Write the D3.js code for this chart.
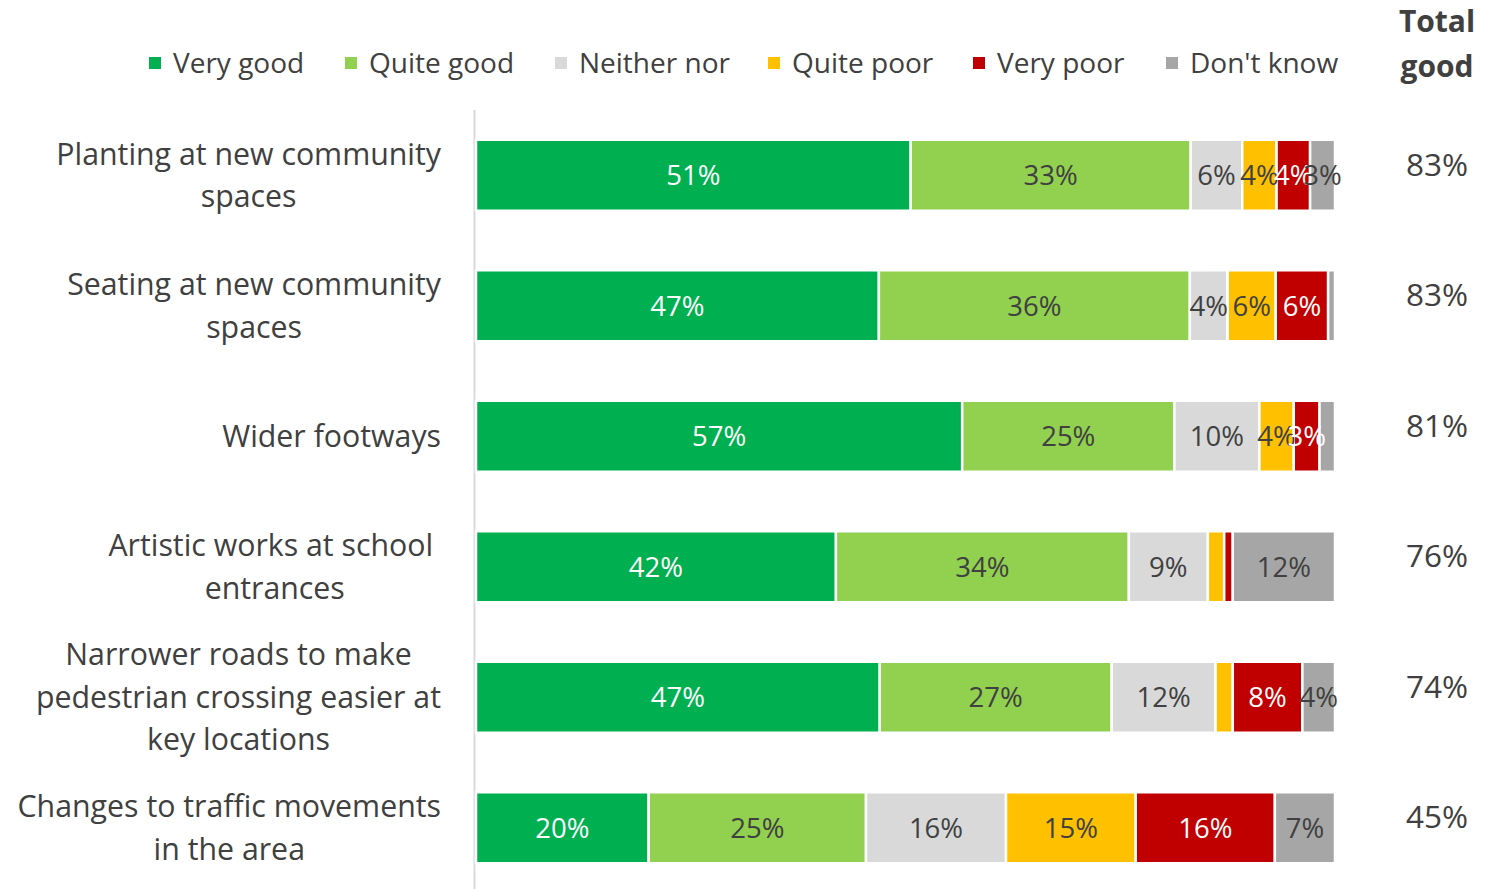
<!DOCTYPE html>
<html>
<head>
<meta charset="utf-8">
<script src="https://cdn.jsdelivr.net/npm/d3@7"></script>
<style>
  html, body { margin: 0; padding: 0; background: #fff; }
  svg { display: block; font-family: "Open Sans", "Noto Sans", sans-serif; }
  .cat tspan { white-space: pre; }
</style>
</head>
<body>
<svg id="chart" width="1496" height="889"></svg>
<script>
// Survey statements, one bar each (wrapped as the labels break)
const categories = [
  ["Planting at new community", "spaces"],
  ["Seating at new community", "spaces"],
  ["Wider footways"],
  ["Artistic works at school ", "entrances"],
  ["Narrower roads to make", "pedestrian crossing easier at", "key locations"],
  ["Changes to traffic movements", "in the area"]
];

const seriesNames = ["Very good", "Quite good", "Neither nor", "Quite poor", "Very poor", "Don't know"];
const seriesColors = ["#00B050", "#92D050", "#D9D9D9", "#FFC000", "#C00000", "#A6A6A6"];
const labelColors  = ["#ffffff", "#404040", "#404040", "#404040", "#ffffff", "#404040"];

// Share of responses per statement (%)
const veryGood  = [50.6, 46.9, 56.6, 41.9, 47.0, 20.1];
const quiteGood = [32.6, 36.2, 24.7, 34.1, 27.0, 25.3];
const neither   = [ 6.0,  4.4,  9.9,  9.2, 12.1, 16.3];
const quitePoor = [ 4.0,  5.6,  4.0,  1.9,  2.0, 15.1];
const veryPoor  = [ 3.9,  6.1,  3.0,  1.0,  8.1, 16.2];
const dontKnow  = [ 2.9,  0.8,  1.8, 11.9,  3.8,  7.0];

const series = [veryGood, quiteGood, neither, quitePoor, veryPoor, dontKnow];
const totalHeader = ["Total", "good"];

const svg = d3.select("#chart");
const textColor = "#404040";
const fmt = v => d3.format(".0f")(v) + "%";

const x = d3.scaleLinear().domain([0, 100]).range([476, 1335]);
const y = d3.scaleBand()
  .domain(d3.range(categories.length))
  .range([110, 893])
  .paddingInner(0.456)
  .paddingOuter(0.228);

// Vertical baseline
svg.append("line")
  .attr("x1", 474.5).attr("x2", 474.5)
  .attr("y1", 110).attr("y2", 889)
  .attr("stroke", "#D9D9D9").attr("stroke-width", 2);

// Stack the segments
const rows = categories.map((c, i) => {
  let acc = 0;
  return series.map((s, k) => {
    const seg = { row: i, k, v: s[i], x0: acc, x1: acc + s[i] };
    acc += s[i];
    return seg;
  });
});
const segs = rows.flat();

const g = svg.append("g");
g.selectAll("rect.seg")
  .data(segs)
  .join("rect")
  .attr("class", "seg")
  .attr("x", d => x(d.x0))
  .attr("width", d => x(d.x1) - x(d.x0))
  .attr("y", d => y(d.row))
  .attr("height", y.bandwidth())
  .attr("fill", d => seriesColors[d.k])
  .attr("stroke", "#fff")
  .attr("stroke-width", 2.5);

g.selectAll("text.val")
  .data(segs.filter(d => d.v >= 2.5))
  .join("text")
  .attr("class", "val")
  .attr("x", d => (x(d.x0) + x(d.x1)) / 2)
  .attr("y", d => y(d.row) + y.bandwidth() / 2)
  .attr("dy", "0.36em")
  .attr("text-anchor", "middle")
  .attr("font-size", 27.5)
  .attr("fill", d => labelColors[d.k])
  .text(d => fmt(d.v));

// Category labels: lines centred on each other, block right-aligned
const lineH = 42.5;
categories.forEach((lines, i) => {
  const t = svg.append("text")
    .attr("class", "cat")
    .attr("font-size", 30.3)
    .attr("fill", textColor)
    .attr("text-anchor", "middle");
  const cy = y(i) + y.bandwidth() / 2;
  const top = cy - (lines.length - 1) * lineH / 2;
  const spans = lines.map((l, j) => t.append("tspan")
    .attr("y", top + j * lineH)
    .attr("dy", "0.35em")
    .text(l));
  const w = d3.max(spans, s => s.node().getComputedTextLength());
  spans.forEach(s => s.attr("x", 441 - w / 2));
});

// Total good column
const hdr = svg.append("text")
  .attr("text-anchor", "middle")
  .attr("font-size", 30)
  .attr("font-weight", "bold")
  .attr("fill", textColor);
totalHeader.forEach((h, j) => hdr.append("tspan")
  .attr("x", 1437).attr("y", 21 + j * 45).attr("dy", "0.35em").text(h));

svg.selectAll("text.total")
  .data(categories.map((c, i) => veryGood[i] + quiteGood[i]))
  .join("text")
  .attr("class", "total")
  .attr("x", 1437)
  .attr("y", (d, i) => y(i) + y.bandwidth() / 2 - 11)
  .attr("dy", "0.36em")
  .attr("text-anchor", "middle")
  .attr("font-size", 31.5)
  .attr("fill", textColor)
  .text(d => fmt(d));

// Legend
const legendX = [149, 345, 555, 768, 973, 1166];
const leg = svg.append("g").selectAll("g")
  .data(seriesNames)
  .join("g")
  .attr("transform", (d, i) => `translate(${legendX[i]},63)`);
leg.append("rect")
  .attr("x", 0).attr("y", -6).attr("width", 12).attr("height", 12)
  .attr("fill", (d, i) => seriesColors[i]);
leg.append("text")
  .attr("x", 24).attr("dy", "0.35em")
  .attr("font-size", 28)
  .attr("fill", textColor)
  .text(d => d);
</script>
</body>
</html>
